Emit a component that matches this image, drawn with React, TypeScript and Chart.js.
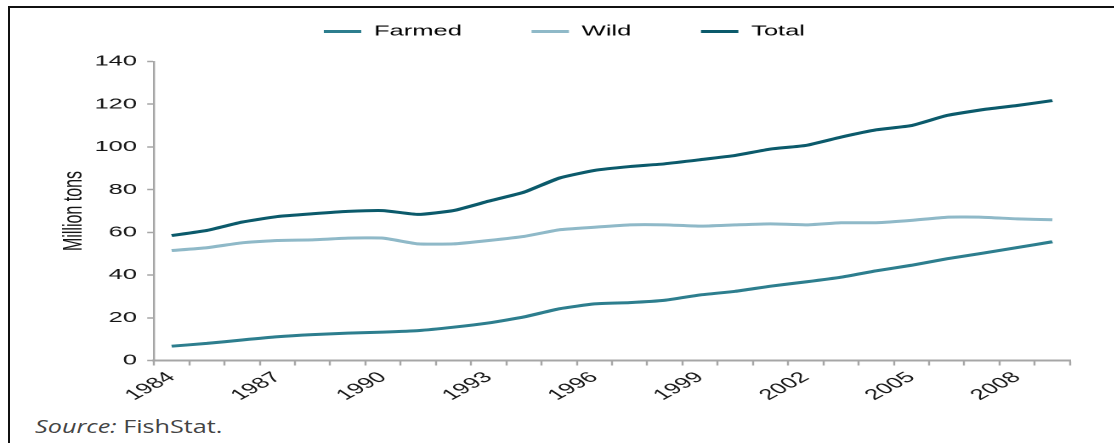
import React, { useEffect, useRef } from 'react';
import { Chart, registerables } from 'chart.js';

Chart.register(...registerables);

// ---- data ----
const years = [
  '1984', '1985', '1986', '1987', '1988', '1989', '1990', '1991', '1992',
  '1993', '1994', '1995', '1996', '1997', '1998', '1999', '2000', '2001',
  '2002', '2003', '2004', '2005', '2006', '2007', '2008', '2009',
];
const farmed = [
  6.7, 8.0, 9.6, 11.1, 12.1, 12.8, 13.3, 14.0, 15.6, 17.6, 20.4, 24.2, 26.5,
  27.1, 28.2, 30.7, 32.4, 34.8, 36.8, 39.0, 42.0, 44.6, 47.6, 50.2, 52.9, 55.6,
];
const wild = [
  51.5, 52.8, 55.1, 56.2, 56.5, 57.3, 57.3, 54.6, 54.6, 56.2, 58.1, 61.2, 62.4,
  63.5, 63.5, 62.9, 63.5, 64.0, 63.5, 64.5, 64.5, 65.6, 67.1, 67.1, 66.3, 65.9,
];
const total = [
  58.5, 60.9, 64.8, 67.4, 68.7, 69.8, 70.2, 68.4, 70.2, 74.6, 78.8, 85.4, 89.0,
  90.8, 92.1, 94.0, 96.0, 99.0, 100.7, 104.6, 108.0, 110.0, 114.7, 117.4, 119.4, 121.7,
];
const seriesNames = ['Farmed', 'Wild', 'Total'];
const seriesColors = ['#2d7e8e', '#8fb9c8', '#0b5a6b'];
const yMin = 0;
const yMax = 140;
const yStep = 20;
const labelEvery = 3;
const yTitle = 'Million tons';
const sourceLabel = 'Source:';
const sourceText = ' FishStat.';

// ---- layout constants ----
const S = 1.7; // horizontal stretch of the reference
const CW = 634.4;
const CH = 425;
const TOP = -17.5;
const FONT = "'Liberation Sans', Arial, Helvetica, sans-serif";
const TEXT = '#151515';

export default function App() {
  const ref = useRef<HTMLCanvasElement | null>(null);

  useEffect(() => {
    if (!ref.current) return;
    const seriesData = [farmed, wild, total];
    const chart = new Chart(ref.current, {
      type: 'line',
      data: {
        labels: years,
        datasets: seriesNames.map((name, i) => ({
          label: name,
          data: seriesData[i],
          borderColor: seriesColors[i],
          backgroundColor: seriesColors[i],
          borderWidth: 3,
          pointRadius: 0,
          tension: 0.15,
          fill: false,
          xAxisID: 'x',
          yAxisID: 'y',
        })),
      },
      options: {
        animation: false,
        responsive: true,
        maintainAspectRatio: false,
        devicePixelRatio: 2,
        layout: { padding: { left: 34.6, right: 5, top: 0, bottom: 0 } },
        plugins: {
          tooltip: { enabled: false },
          legend: {
            display: true,
            position: 'top',
            labels: {
              font: { size: 15, family: FONT },
              color: TEXT,
              boxWidth: 22,
              boxHeight: 3,
              padding: 41,
              generateLabels: (c: any) =>
                c.data.datasets.map((d: any, i: number) => ({
                  text: d.label,
                  fillStyle: d.borderColor,
                  strokeStyle: d.borderColor,
                  lineWidth: 0,
                  hidden: false,
                  datasetIndex: i,
                })),
            },
          },
        },
        scales: {
          x: {
            type: 'category',
            position: 'bottom',
            offset: true,
            grid: {
              display: true,
              offset: true,
              drawOnChartArea: false,
              drawTicks: true,
              tickLength: 5,
              tickWidth: 1.2,
              tickColor: '#a6a6a6',
            },
            border: { display: true, color: '#a6a6a6', width: 2 },
            ticks: {
              autoSkip: false,
              maxRotation: 42,
              minRotation: 42,
              padding: 3,
              color: TEXT,
              font: { size: 15, family: FONT },
              callback: (_v: any, i: number) => (i % labelEvery === 0 ? years[i] : ''),
            },
            afterFit: (s: any) => {
              s.height = CH - 377.5;
            },
          },
          spacer: {
            type: 'category',
            position: 'top',
            display: true,
            grid: { display: false, drawTicks: false },
            border: { display: false },
            ticks: { display: false },
            afterFit: (s: any) => {
              s.height = 12.5;
            },
          },
          y: {
            type: 'linear',
            position: 'left',
            min: yMin,
            max: yMax,
            grid: {
              display: true,
              drawOnChartArea: false,
              drawTicks: true,
              tickLength: 4,
              tickWidth: 1.5,
              tickColor: '#a6a6a6',
            },
            border: { display: true, color: '#a6a6a6', width: 1.2 },
            ticks: {
              stepSize: yStep,
              padding: 6,
              color: TEXT,
              font: { size: 15, family: FONT },
            },
            title: {
              display: true,
              text: yTitle,
              color: TEXT,
              font: { size: 16, family: FONT, lineHeight: 1 },
              padding: { top: 1, bottom: 0 },
            },
            afterFit: (s: any) => {
              s.width = 90.6 - 34.6;
            },
          },
        },
      } as any,
    });
    return () => chart.destroy();
  }, []);

  return (
    <div
      style={{
        position: 'fixed',
        left: 0,
        top: 0,
        width: 1114,
        height: 443,
        overflow: 'hidden',
        background: '#fff',
      }}
    >
      <div
        style={{
          position: 'absolute',
          left: 8,
          top: 6,
          width: 1120,
          height: 460,
          borderTop: '2.5px solid #111',
          borderLeft: '2.5px solid #111',
        }}
      />
      <div
        style={{
          position: 'absolute',
          left: 0,
          top: TOP,
          width: CW,
          height: CH,
          transform: `scaleX(${S})`,
          transformOrigin: '0 0',
        }}
      >
        <canvas ref={ref} />
      </div>
      <div
        style={{
          position: 'absolute',
          left: 35,
          top: 417.3,
          fontFamily: "'Open Sans', sans-serif",
          fontSize: 18,
          lineHeight: 1,
          color: '#444',
          whiteSpace: 'pre',
          transform: 'scaleX(1.4)',
          transformOrigin: '0 0',
        }}
      >
        <span style={{ fontStyle: 'italic' }}>{sourceLabel}</span>
        <span>{sourceText}</span>
      </div>
    </div>
  );
}
